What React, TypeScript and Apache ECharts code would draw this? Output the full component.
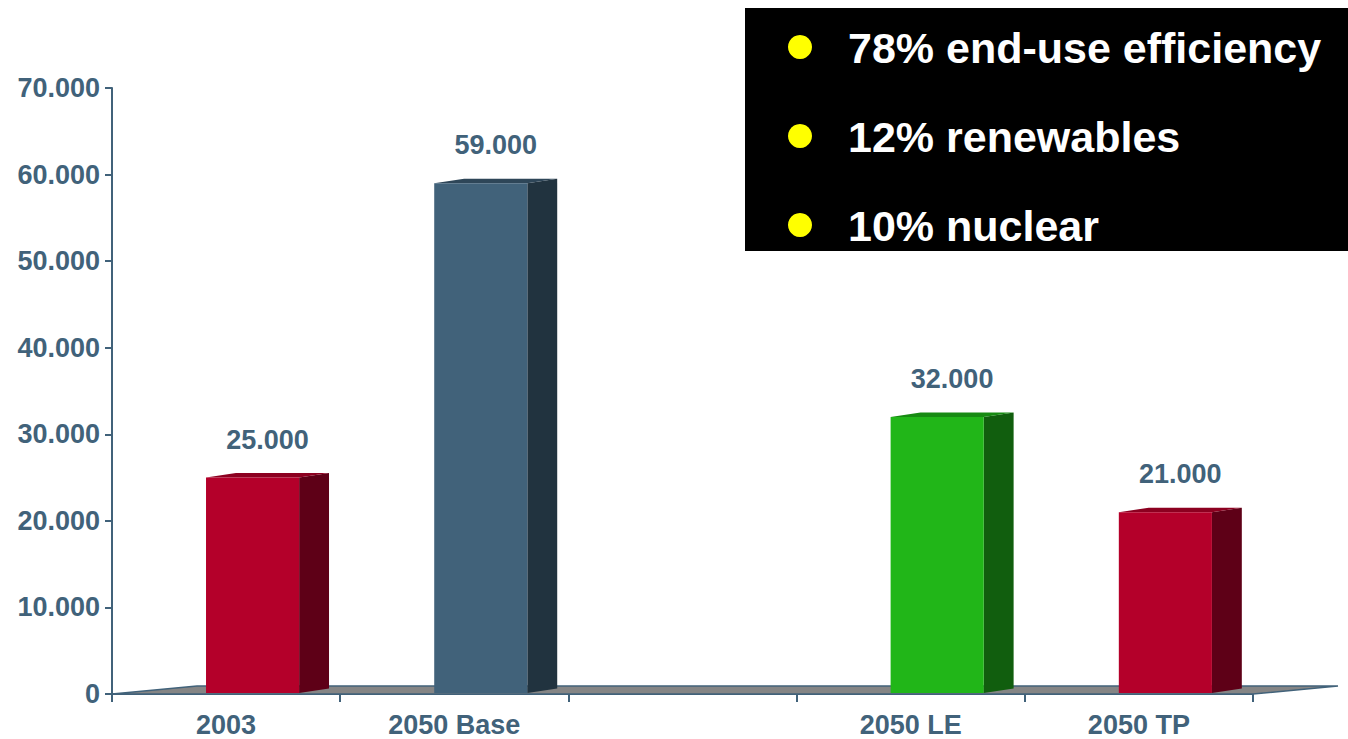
import React, { useEffect, useRef } from "react";
import * as echarts from "echarts";

// Scenario categories (the third slot is an intentional gap on the axis)
const categories = ["2003", "2050 Base", "", "2050 LE", "2050 TP"];
// Values per category; null leaves the slot empty
const values: (number | null)[] = [25000, 59000, null, 32000, 21000];
// Value-axis ticks
const yMin = 0;
const yMax = 70000;
const yStep = 10000;
// Bullet points shown in the black panel
const bullets = ["78% end-use efficiency", "12% renewables", "10% nuclear"];

// Face colours of each 3D bar, by category index
const frontColors = ["#B4002A", "#41627A", "", "#21B618", "#B4002A"];
const sideColors = ["#5E0017", "#21333F", "", "#115E0E", "#5E0017"];
const topColors = ["#8C0020", "#2E4658", "", "#178A12", "#8C0020"];

const TEXT = "#41627A";
const FONT = "'Liberation Sans', Arial, sans-serif";

const fmt = (v: number) => String(v).replace(/\B(?=(\d{3})+(?!\d))/g, ".");

export default function App() {
  const ref = useRef<HTMLDivElement>(null);

  useEffect(() => {
    if (!ref.current) return;
    const chart = echarts.init(ref.current, undefined, { renderer: "svg" });

    const barData = values
      .map((v, i) => (v == null ? null : [i, v]))
      .filter((d) => d !== null) as number[][];

    const option: any = {
      animation: false,
      backgroundColor: "#ffffff",
      grid: { left: 112, right: 95, top: 88, bottom: 45, containLabel: false },
      xAxis: {
        type: "category",
        data: categories,
        boundaryGap: true,
        axisLine: { show: true, lineStyle: { color: TEXT, width: 2 } },
        axisTick: { show: true, alignWithLabel: false, length: 8, lineStyle: { color: TEXT, width: 2 } },
        axisLabel: {
          color: TEXT,
          fontFamily: FONT,
          fontWeight: "bold",
          fontSize: 27,
          margin: 17,
        },
        splitLine: { show: false },
      },
      yAxis: {
        type: "value",
        min: yMin,
        max: yMax,
        interval: yStep,
        axisLine: { show: true, lineStyle: { color: TEXT, width: 2 } },
        axisTick: { show: true, length: 7, lineStyle: { color: TEXT, width: 2 } },
        axisLabel: {
          color: TEXT,
          fontFamily: FONT,
          fontWeight: "bold",
          fontSize: 27,
          margin: 12,
          formatter: (v: number) => fmt(v),
        },
        splitLine: { show: false },
      },
      series: [
        {
          // gray perspective floor under the bars
          type: "custom",
          z: 1,
          data: [[0, 0]],
          silent: true,
          renderItem: (params: any) => {
            const cs = params.coordSys;
            const x0 = cs.x;
            const x1 = cs.x + cs.width;
            const yb = cs.y + cs.height;
            const depthX = 85;
            const depthY = 8;
            return {
              type: "polygon",
              shape: {
                points: [
                  [x0, yb],
                  [x1, yb],
                  [x1 + depthX, yb - depthY],
                  [x0 + depthX, yb - depthY],
                ],
              },
              style: { fill: "#858585", stroke: TEXT, lineWidth: 1.5 },
            };
          },
        },
        {
          // 3D bars: front, side and top faces plus value label
          type: "custom",
          z: 3,
          data: barData,
          silent: true,
          renderItem: (params: any, api: any) => {
            const idx = api.value(0);
            const val = api.value(1);
            const base = api.coord([idx, 0]);
            const top = api.coord([idx, val]);
            const band = api.size([1, 0])[0];
            const fl = base[0] - band * 0.088;
            const fw = band * 0.408;
            const dx = band * 0.131;
            const dy = 4.5;
            const yb = base[1] - 1;
            const yt = top[1];
            return {
              type: "group",
              children: [
                {
                  type: "polygon",
                  shape: {
                    points: [
                      [fl + fw, yb],
                      [fl + fw + dx, yb - dy],
                      [fl + fw + dx, yt - dy],
                      [fl + fw, yt],
                    ],
                  },
                  style: { fill: sideColors[idx] },
                },
                {
                  type: "polygon",
                  shape: {
                    points: [
                      [fl, yt],
                      [fl + fw, yt],
                      [fl + fw + dx, yt - dy],
                      [fl + dx, yt - dy],
                    ],
                  },
                  style: { fill: topColors[idx] },
                },
                {
                  type: "rect",
                  shape: { x: fl, y: yt, width: fw, height: yb - yt },
                  style: { fill: frontColors[idx] },
                },
                {
                  type: "text",
                  x: fl + (fw + dx) / 2,
                  y: yt - 38,
                  style: {
                    text: fmt(val),
                    fill: TEXT,
                    font: `bold 27px ${FONT}`,
                    align: "center",
                    verticalAlign: "middle",
                  },
                },
              ],
            };
          },
        },
      ],
      graphic: [
        {
          type: "group",
          left: 745,
          top: 8,
          children: [
            {
              type: "rect",
              shape: { x: 0, y: 0, width: 603, height: 243 },
              style: { fill: "#000000" },
            },
            ...bullets.flatMap((b, i) => [
              {
                type: "circle",
                shape: { cx: 55, cy: 39 + i * 89, r: 12 },
                style: { fill: "#FFFF00" },
              },
              {
                type: "text",
                x: 103,
                y: 40 + i * 89,
                style: {
                  text: b,
                  fill: "#FFFFFF",
                  font: `bold 43px ${FONT}`,
                  verticalAlign: "middle",
                  align: "left",
                },
              },
            ]),
          ],
        },
      ],
    };

    chart.setOption(option);
    return () => chart.dispose();
  }, []);

  return (
    <div
      ref={ref}
      style={{ position: "fixed", left: 0, top: 0, width: 1348, height: 739 }}
    />
  );
}
